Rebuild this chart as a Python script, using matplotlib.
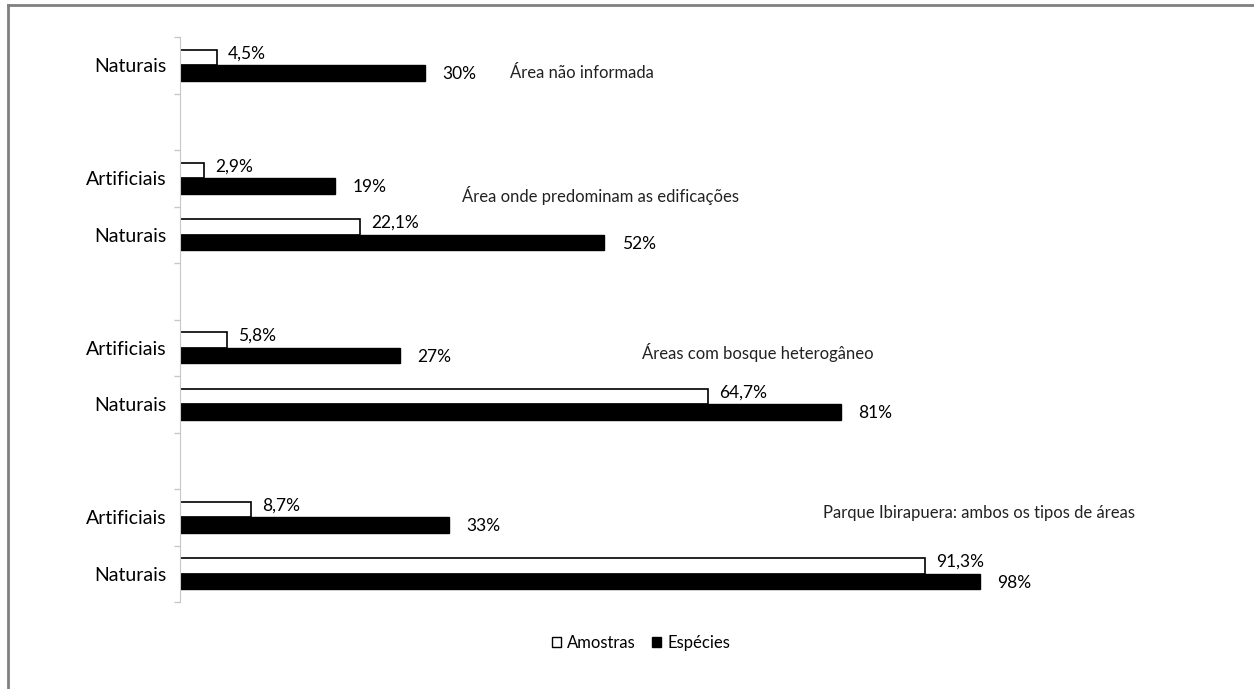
import numpy as np
import matplotlib
matplotlib.use("Agg")
import matplotlib.pyplot as plt
from matplotlib.patches import Patch
from matplotlib.lines import Line2D

plt.rcParams['font.family'] = ['Lato', 'DejaVu Sans']

# dados (espacos em branco separam os grupos)
categorias = ["Naturais", "", "Artificiais", "Naturais", "", "Artificiais",
              "Naturais", "", "Artificiais", "Naturais"]
amostras = [4.5, np.nan, 2.9, 22.1, np.nan, 5.8, 64.7, np.nan, 8.7, 91.3]
especies = [30, np.nan, 19, 52, np.nan, 27, 81, np.nan, 33, 98]
grupos = ["Área não informada", "Área onde predominam as edificações",
          "Áreas com bosque heterogâneo", "Parque Ibirapuera: ambos os tipos de áreas"]
grupo_pos = [(40.4, 0.14), (34.6, 2.30), (56.6, 5.08), (78.8, 7.92)]

fig = plt.figure(figsize=(12.54, 6.89), dpi=100)
ax = fig.add_axes([180/1254, 1 - 602/689, 1000/1254, 565/689])

y = np.arange(len(categorias))
h = 0.27
ax.barh(y - h/2, amostras, height=h, color="white", edgecolor="black", linewidth=1.2)
ax.barh(y + h/2, especies, height=h, color="black", edgecolor="black", linewidth=1)

for i in range(len(categorias)):
    if not np.isnan(amostras[i]):
        txt = f"{amostras[i]:.1f}".replace(".", ",") + "%"
        ax.annotate(txt, (amostras[i], y[i] - h/2), xytext=(8, 3),
                    textcoords="offset points", va="center", fontsize=12.5)
        ax.annotate(f"{especies[i]:.0f}%", (especies[i], y[i] + h/2), xytext=(12.5, -1),
                    textcoords="offset points", va="center", fontsize=12.5)

for g, (gx, gy) in zip(grupos, grupo_pos):
    ax.text(gx, gy, g, va="center", ha="left", fontsize=12, color="#222222")

ax.set_xlim(0, 1000/8.16)
ax.set_ylim(9.5, -0.5)
ax.set_yticks(y)
ax.set_yticklabels(categorias, fontsize=14)
ax.set_yticks(np.arange(-0.5, 10, 1), minor=True)
ax.tick_params(axis="y", which="major", length=0, pad=10)
ax.tick_params(axis="y", which="minor", length=4, color="#c8c8c8", width=1)
ax.set_xticks([])
for s in ["top", "right", "bottom"]:
    ax.spines[s].set_visible(False)
ax.spines["left"].set_color("#c8c8c8")

handles = [Patch(facecolor="white", edgecolor="black", linewidth=1),
           Patch(facecolor="black", edgecolor="black")]
fig.legend(handles, ["Amostras", "Espécies"], loc="center", bbox_to_anchor=(0.511, 1 - 643/689),
           ncol=2, frameon=False, fontsize=12, handlelength=0.55, handleheight=0.55,
           handletextpad=0.35, columnspacing=1.0)

# moldura
fig.add_artist(Line2D([8/1254, 8/1254], [0, 1 - 5/689], color="#808080", lw=2, transform=fig.transFigure))
fig.add_artist(Line2D([8/1254, 1], [1 - 5/689, 1 - 5/689], color="#808080", lw=2, transform=fig.transFigure))

fig.savefig("out.png", dpi=100)
